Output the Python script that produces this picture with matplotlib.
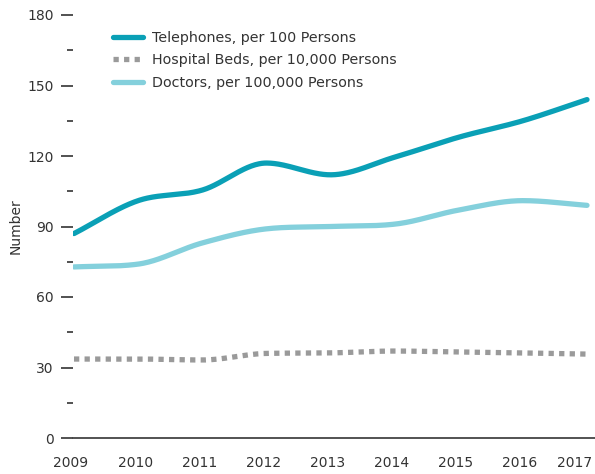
import numpy as np
import matplotlib
matplotlib.use("Agg")
import matplotlib.pyplot as plt
from matplotlib.transforms import ScaledTranslation

years = [2009, 2010, 2011, 2012, 2013, 2014, 2015, 2016, 2017]
telephones = [87, 101, 105.5, 117, 112, 119.5, 128, 135, 144]
hospital_beds = [33.6, 33.6, 33.2, 36, 36.2, 37, 36.6, 36.2, 35.7]
doctors = [72.8, 74, 83, 89, 90, 91, 97, 101, 99]
y_ticks = [0, 30, 60, 90, 120, 150, 180]
labels = ["Telephones, per 100 Persons", "Hospital Beds, per 10,000 Persons",
          "Doctors, per 100,000 Persons"]


def monotone(x, y, n=400):
    x = np.asarray(x, float); y = np.asarray(y, float)
    h = np.diff(x); d = np.diff(y) / h
    m = np.zeros_like(y)
    m[0] = d[0]; m[-1] = d[-1]
    for i in range(1, len(y) - 1):
        if d[i - 1] * d[i] <= 0:
            m[i] = 0
        else:
            s = (d[i - 1] + d[i]) / 2
            m[i] = np.sign(s) * min(abs(s), 3 * min(abs(d[i - 1]), abs(d[i])))
    xs = np.linspace(x[0], x[-1], n)
    ys = np.empty_like(xs)
    for k, xv in enumerate(xs):
        i = min(np.searchsorted(x, xv, side="right") - 1, len(x) - 2)
        t = (xv - x[i]) / h[i]
        h00 = 2 * t**3 - 3 * t**2 + 1
        h10 = t**3 - 2 * t**2 + t
        h01 = -2 * t**3 + 3 * t**2
        h11 = t**3 - t**2
        ys[k] = h00 * y[i] + h10 * h[i] * m[i] + h01 * y[i + 1] + h11 * h[i] * m[i + 1]
    return xs, ys


W, H = 595, 474
fig = plt.figure(figsize=(W / 100, H / 100), dpi=100)
left_px = 73
ax = fig.add_axes([left_px / W, 36 / H, (W - left_px) / W, (438 - 15) / H])

c_tel = "#0aa0b6"
c_bed = "#9a9a9a"
c_doc = "#84d0dc"

xs, ys = monotone(years, telephones)
ax.plot(xs, ys, color=c_tel, lw=3.8, solid_capstyle="round", label=labels[0])
xs, ys = monotone(years, hospital_beds)
ax.plot(xs, ys, color=c_bed, lw=3.8, linestyle=(0, (1.0, 1.0)), dash_capstyle="butt", label=labels[1])
xs, ys = monotone(years, doctors)
ax.plot(xs, ys, color=c_doc, lw=3.8, solid_capstyle="round", label=labels[2])

px = 64.1
ax.set_xlim(2009 - 1 / px, 2017 + 8 / px)
ax.set_ylim(0, 180)

for s in ["top", "right", "left"]:
    ax.spines[s].set_visible(False)
ax.spines["bottom"].set_color("#444444")
ax.spines["bottom"].set_linewidth(1.3)

ax.set_yticks(y_ticks)
ax.set_yticks([15, 45, 75, 105, 135, 165], minor=True)
ax.tick_params(axis="y", which="major", length=9, width=1.2, color="#333333",
               labelsize=10, labelcolor="#333333", pad=5)
ax.tick_params(axis="y", which="minor", length=4.5, width=1.2, color="#333333")
ax.set_xticks(years)
ax.set_xticklabels([str(y) for y in years])
ax.tick_params(axis="x", length=0, labelsize=10, labelcolor="#333333", pad=13)
for lab in ax.get_xticklabels():
    lab.set_transform(lab.get_transform() + ScaledTranslation(-3 / 100, 0, fig.dpi_scale_trans))
last = ax.get_xticklabels()[-1]
last.set_transform(last.get_transform() + ScaledTranslation(-9 / 100, 0, fig.dpi_scale_trans))

ax.set_ylabel("Number", fontsize=10, color="#333333")
ax.yaxis.set_label_coords(23 / W, (474 - 226) / H, transform=fig.transFigure)

ax.legend(loc="upper left", bbox_to_anchor=(100 / W, 1 - 18 / H), bbox_transform=fig.transFigure,
          frameon=False, fontsize=10.3, handlelength=2.1, handletextpad=0.6, labelspacing=0.6,
          labelcolor="#333333")

fig.savefig("out.png", dpi=100)
